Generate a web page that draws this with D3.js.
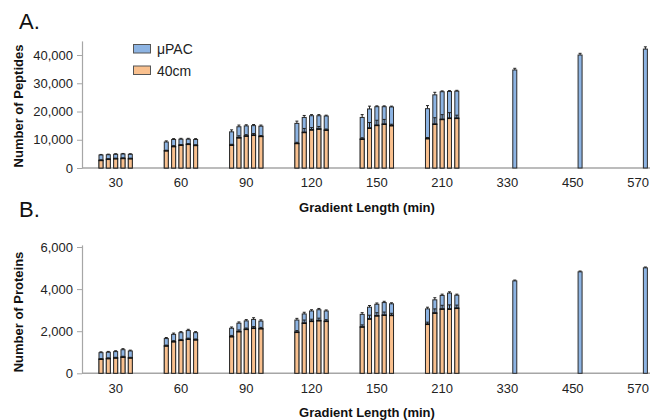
<!DOCTYPE html>
<html><head><meta charset="utf-8">
<script src="https://cdn.jsdelivr.net/npm/d3@7"></script>
<style>body{margin:0;background:#fff}svg{display:block;font-family:Arial,"Liberation Sans",sans-serif}</style>
</head><body><svg width="650" height="420"></svg>
<script>
// Categories (gradient length, min)
const categories = ["30","60","90","120","150","210","330","450","570"];
const groupedCats = ["30","60","90","120","150","210"];
const singleCats = ["330","450","570"];
const seriesNames = ["μPAC","40cm"];

// Panel A: peptides (5 bars per grouped gradient)
const pepMuPAC = [
  [4600,4700,4850,4950,4850],
  [9200,10100,10200,10200,10100],
  [12800,14600,14900,15000,14800],
  [15800,17900,18500,18500,18400],
  [17900,20900,21700,21700,21600],
  [21000,25900,27000,27100,27200]
];
const pep40cm = [
  [2700,3100,3300,3400,3300],
  [6100,7600,8100,8400,8000],
  [8100,10700,11300,11600,11200],
  [8700,12600,13500,13800,13400],
  [10200,14100,15100,15500,15000],
  [10400,15500,17200,17600,17600]
];
const pepMuPACErr = [
  [200,200,200,200,200],
  [400,300,300,300,300],
  [700,600,400,400,400],
  [800,700,400,400,300],
  [1000,1000,300,300,300],
  [1100,900,300,300,300]
];
const pep40cmErr = [
  [150,150,150,150,150],
  [200,300,200,200,200],
  [300,700,500,600,300],
  [400,1400,800,900,400],
  [500,2000,1800,1700,500],
  [400,2300,1700,2000,1100]
];
const pepMuPACSingle = [34700,40000,42100];
const pepMuPACSingleErr = [600,600,800];

// Panel B: proteins
const protMuPAC = [
  [980,1000,1030,1120,1060],
  [1650,1850,1930,2030,1930],
  [2140,2380,2490,2560,2480],
  [2530,2820,2960,3020,2960],
  [2800,3140,3280,3360,3300],
  [3060,3490,3700,3810,3710]
];
const prot40cm = [
  [670,700,730,770,730],
  [1300,1500,1570,1620,1590],
  [1740,1980,2090,2140,2120],
  [1950,2380,2470,2500,2470],
  [2200,2580,2730,2760,2750],
  [2330,2860,3050,3050,3090]
];
const protMuPACErr = [
  [40,40,40,50,40],
  [50,60,50,60,50],
  [60,60,60,80,60],
  [80,80,60,60,50],
  [80,80,60,60,50],
  [80,100,60,60,50]
];
const prot40cmErr = [
  [30,30,30,40,30],
  [40,50,40,50,40],
  [60,80,60,80,60],
  [80,150,100,120,80],
  [100,180,150,150,100],
  [100,200,180,200,150]
];
const protMuPACSingle = [4390,4820,5010];
const protMuPACSingleErr = [40,40,40];

const pepTicks = [0,10000,20000,30000,40000];
const protTicks = [0,2000,4000,6000];

const BLUE = "#8db4e3", ORANGE = "#f9c08e", EDGE = "#2b2b2b", AXIS = "#a6a6a6";
const svg = d3.select("svg");

const x = d3.scaleBand().domain(categories).range([83, 670.7]).padding(0);
const slot = d3.scaleBand().domain(d3.range(5)).range([-18.33, 18.33]).padding(0);
const barW = 4;
const slotCenter = j => slot(j) + slot.bandwidth()/2;

function panel(o) {
  const g = svg.append("g");
  const y = d3.scaleLinear().domain(o.domain).range(o.range);
  const base = y(0);
  // axes
  const xa = g.append("g").attr("transform", `translate(0,${base})`)
    .call(d3.axisBottom(x).tickSize(0).tickPadding(10));
  xa.select(".domain").attr("stroke", AXIS).attr("stroke-width", 1.5).attr("d", `M82,0H650`);
  xa.selectAll("text").attr("font-size", 13).attr("fill", "#222").attr("font-family", "Arial, Liberation Sans, sans-serif");
  const ya = g.append("g").attr("transform", `translate(82,0)`)
    .call(d3.axisLeft(y).tickValues(o.ticks).tickFormat(d3.format(",")).tickSize(5).tickSizeOuter(0).tickPadding(4));
  ya.select(".domain").attr("stroke", AXIS).attr("stroke-width", 1.2);
  ya.selectAll(".tick line").attr("stroke", AXIS);
  ya.selectAll("text").attr("font-size", 13).attr("fill", "#222").attr("font-family", "Arial, Liberation Sans, sans-serif");

  // bars data
  const items = [];
  groupedCats.forEach((c, i) => {
    for (let j = 0; j < 5; j++) {
      const cx = x(c) + x.bandwidth()/2 + slotCenter(j);
      items.push({cx, mu: o.mu[i][j], muE: o.muE[i][j], c40: o.c40[i][j], c40E: o.c40E[i][j]});
    }
  });
  singleCats.forEach((c, i) => {
    const cx = x(c) + x.bandwidth()/2 + slotCenter(3);
    items.push({cx, mu: o.single[i], muE: o.singleE[i], c40: null, c40E: null});
  });

  const bars = g.append("g");
  bars.selectAll("rect.mu").data(items).join("rect").attr("class","mu")
    .attr("x", d => d.cx - barW/2).attr("width", barW)
    .attr("y", d => y(d.mu)).attr("height", d => base - y(d.mu))
    .attr("fill", BLUE).attr("stroke", EDGE).attr("stroke-width", 1);
  const withC = items.filter(d => d.c40 != null);
  bars.selectAll("rect.c40").data(withC).join("rect").attr("class","c40")
    .attr("x", d => d.cx - barW/2).attr("width", barW)
    .attr("y", d => y(d.c40)).attr("height", d => base - y(d.c40))
    .attr("fill", ORANGE).attr("stroke", EDGE).attr("stroke-width", 1);
  // thicker top edge on orange
  bars.selectAll("line.c40top").data(withC).join("line").attr("class","c40top")
    .attr("x1", d => d.cx - barW/2 - 0.5).attr("x2", d => d.cx + barW/2 + 0.5)
    .attr("y1", d => y(d.c40)).attr("y2", d => y(d.c40))
    .attr("stroke", "#111").attr("stroke-width", 1.6);
  // error bars (plus direction)
  const err = [];
  items.forEach(d => {
    err.push({cx: d.cx, v: d.mu, e: d.muE});
    if (d.c40 != null) err.push({cx: d.cx, v: d.c40, e: d.c40E});
  });
  const eg = bars.selectAll("g.err").data(err).join("g").attr("class","err")
    .attr("stroke", "#222").attr("stroke-width", 1);
  eg.append("line").attr("x1", d => d.cx).attr("x2", d => d.cx)
    .attr("y1", d => y(d.v)).attr("y2", d => y(d.v + d.e));
  eg.append("line").attr("x1", d => d.cx - 1.5).attr("x2", d => d.cx + 1.5)
    .attr("y1", d => y(d.v + d.e)).attr("y2", d => y(d.v + d.e));

  // axis titles
  g.append("text").attr("transform", `translate(${o.ylabX},${o.ylabY}) rotate(-90)`)
    .attr("text-anchor", "middle").attr("font-size", 13).attr("font-weight", "bold").attr("fill", "#111")
    .text(o.ylabel);
  g.append("text").attr("x", 367).attr("y", o.xtitleY).attr("text-anchor", "middle")
    .attr("font-size", 13).attr("font-weight", "bold").attr("fill", "#111")
    .text("Gradient Length (min)");
  g.append("text").attr("x", 19).attr("y", o.letterY).attr("font-size", 22).attr("fill", "#111").text(o.letter);
  return g;
}

panel({domain: [0,45000], range: [168, 40.9], ticks: pepTicks,
  mu: pepMuPAC, c40: pep40cm, muE: pepMuPACErr, c40E: pep40cmErr,
  single: pepMuPACSingle, singleE: pepMuPACSingleErr,
  ylabel: "Number of Peptides", ylabX: 23, ylabY: 106, xtitleY: 212, letter: "A.", letterY: 29});

panel({domain: [0,6100], range: [373.3, 244.9], ticks: protTicks,
  mu: protMuPAC, c40: prot40cm, muE: protMuPACErr, c40E: prot40cmErr,
  single: protMuPACSingle, singleE: protMuPACSingleErr,
  ylabel: "Number of Proteins", ylabX: 23, ylabY: 312, xtitleY: 417, letter: "B.", letterY: 217});

// legend
const legend = svg.append("g");
const legItems = seriesNames.map((n, i) => ({name: n, color: i === 0 ? BLUE : ORANGE}));
legend.selectAll("rect").data(legItems).join("rect")
  .attr("x", 133.5).attr("y", (d, i) => 44.5 + i * 21.5).attr("width", 17).attr("height", 8.5)
  .attr("fill", d => d.color).attr("stroke", "#555").attr("stroke-width", 1);
legend.selectAll("text").data(legItems).join("text")
  .attr("x", 157).attr("y", (d, i) => 54 + i * 21.5).attr("font-size", 14).attr("fill", "#222")
  .text(d => d.name);
</script></body></html>
